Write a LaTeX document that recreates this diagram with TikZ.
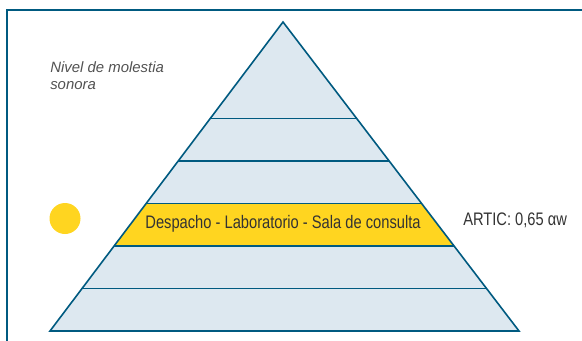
\documentclass[tikz,border=0pt]{standalone}
\usepackage{fontspec}
\setmainfont{Liberation Sans}
\newfontfamily\condfont[FakeStretch=0.81]{Liberation Sans}
\usetikzlibrary{calc}
\definecolor{framecol}{HTML}{005A80}
\definecolor{bandcol}{HTML}{DDE8F0}
\definecolor{sunyellow}{HTML}{FFD520}
\definecolor{labeltext}{HTML}{333333}
\begin{document}
\begin{tikzpicture}[x=.75pt,y=-.75pt,every node/.style={text=labeltext,inner sep=0pt}]
		\useasboundingbox(0,0)rectangle(582,340);
		\clip(0,0)rectangle(582,340);
		\coordinate(A)at(283,22);
		\coordinate(L)at(50,331);
		\coordinate(R)at(519,331);
		%frame, open to the right and bottom
		\draw[framecol,line width=1.6pt](7,350)--(7,10)--(600,10);
		%pyramid
		\fill[bandcol](A)--(L)--(R)--cycle;
		\fill[sunyellow]($(A)!.5875!(L)$)--($(A)!.5875!(R)$)--($(A)!.725!(R)$)--($(A)!.725!(L)$)--cycle;
		\foreach\t in{.3125,.45,.5875,.725,.8625}{\draw[framecol,line width=1pt]($(A)!\t!(L)$)--($(A)!\t!(R)$);}
		\draw[framecol,line width=1.2pt,line join=miter](A)--(L)--(R)--cycle;
		\fill[sunyellow](65,218.5)circle(15.5);
		\node[font=\condfont\fontsize{13.6}{16}\selectfont](band)at(283,224){Despacho - Laboratorio - Sala de consulta};
		\node[anchor=west,font=\condfont\fontsize{13.6}{16}\selectfont](artic)at(463,220){ARTIC: 0,65 αw};
		\node[anchor=north west,align=left,text=labeltext!85,font=\itshape\fontsize{11.2}{12.8}\selectfont](title)at(50,61){Nivel de molestia\\sonora};
	\end{tikzpicture}
\end{document}
